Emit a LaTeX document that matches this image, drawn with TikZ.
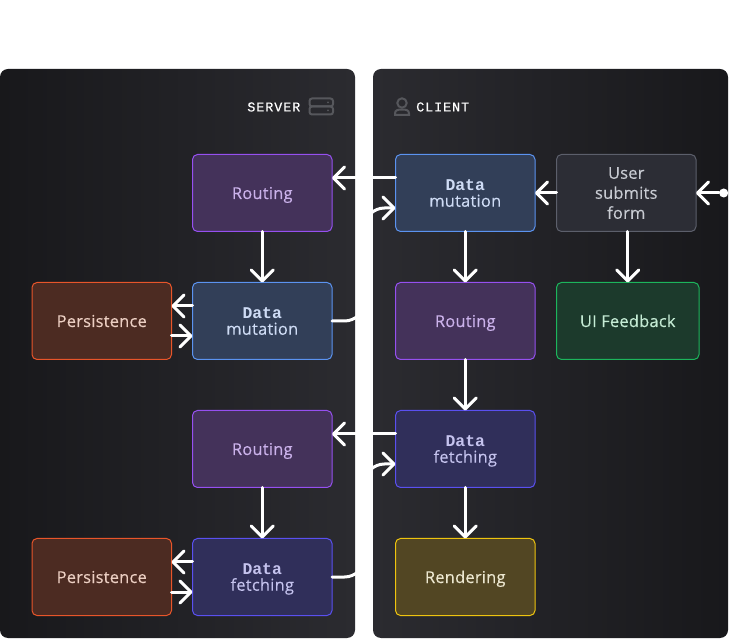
\documentclass[tikz,border=0pt]{standalone}
\usepackage{fontspec}
\setmainfont[FakeBold=0.3, LetterSpace=1.5]{Open Sans}
\newfontfamily\labelfont[LetterSpace=6.5, FakeBold=0.2]{Liberation Mono}
\newfontfamily\datafont{Liberation Mono}
\usetikzlibrary{arrows.meta, positioning}
\definecolor{panel_light}{RGB}{43, 43, 48}
\definecolor{panel_dark}{RGB}{24, 24, 27}
\definecolor{icon_gray}{RGB}{86, 87, 92}
\definecolor{routing_fill}{RGB}{68, 50, 90}
\definecolor{routing_line}{RGB}{150, 80, 240}
\definecolor{routing_text}{RGB}{203, 178, 235}
\definecolor{mutation_fill}{RGB}{50, 63, 88}
\definecolor{mutation_line}{RGB}{91, 147, 240}
\definecolor{mutation_text}{RGB}{207, 220, 245}
\definecolor{persist_fill}{RGB}{76, 43, 34}
\definecolor{persist_line}{RGB}{232, 85, 42}
\definecolor{persist_text}{RGB}{236, 207, 195}
\definecolor{fetching_fill}{RGB}{48, 47, 90}
\definecolor{fetching_line}{RGB}{90, 80, 240}
\definecolor{fetching_text}{RGB}{197, 195, 238}
\definecolor{render_fill}{RGB}{82, 70, 35}
\definecolor{render_line}{RGB}{238, 196, 15}
\definecolor{render_text}{RGB}{236, 231, 208}
\definecolor{user_fill}{RGB}{44, 45, 53}
\definecolor{user_line}{RGB}{92, 95, 107}
\definecolor{user_text}{RGB}{200, 203, 210}
\definecolor{feedback_fill}{RGB}{28, 58, 44}
\definecolor{feedback_line}{RGB}{28, 181, 92}
\definecolor{feedback_text}{RGB}{197, 236, 213}
\tikzset {
  panel/.style = {rectangle, rounded corners=8pt, minimum width=355pt, minimum height=569pt, inner sep=0},
  box/.style = {draw, line width=1pt, rectangle, rounded corners=5pt, minimum height=77pt, minimum width=139.5pt, inner sep=0, outer sep=0, align=center, font=\fontsize{16.4}{20}\selectfont},
  onelinebox/.style = {box, text height=12pt, text depth=0pt},
  databox/.style = {box, text depth=0pt, font=\fontsize{16.4}{16.5}\selectfont},
  routingbox/.style = {onelinebox, draw=routing_line, fill=routing_fill, text=routing_text},
  mutationbox/.style = {databox, draw=mutation_line, fill=mutation_fill, text=mutation_text},
  persistbox/.style = {onelinebox, draw=persist_line, fill=persist_fill, text=persist_text},
  fetchingbox/.style = {databox, draw=fetching_line, fill=fetching_fill, text=fetching_text},
  renderbox/.style = {onelinebox, draw=render_line, fill=render_fill, text=render_text},
  userbox/.style = {box, draw=user_line, fill=user_fill, text=user_text},
  feedbackbox/.style = {onelinebox, minimum width=142.5pt, draw=feedback_line, fill=feedback_fill, text=feedback_text},
  heading/.style = {text=white, inner sep=0, font=\labelfont\fontsize{13.5}{16}\selectfont},
  startdot/.style = {circle, fill=white, minimum size=9pt, inner sep=0},
  line/.style = {-{Straight Barb[length=11pt, width=22pt, line width=3pt, round]}, line width=3pt, color=white, line cap=round},
  icon/.style = {draw=icon_gray, line width=2pt}
}

\begin{document}
\begin{tikzpicture}[x=1pt, y=1pt, node distance=51pt]
    \useasboundingbox (0,0) rectangle (737,638);

    % panels
    \node[panel, left color=panel_dark, right color=panel_light] (serverpanel) at (177.5,284.5) {};
    \node[panel, left color=panel_light, right color=panel_dark] (clientpanel) at (550.5,284.5) {};
    \node[heading, anchor=east] (serverlabel) at (300.5,531) {SERVER};
    \node[heading, anchor=west] (clientlabel) at (416,531) {CLIENT};

    % icons
    \draw[icon, rounded corners=2.5pt] (309.5,523.5) rectangle (333,531.5);
    \draw[icon, rounded corners=2.5pt] (309.5,531.5) rectangle (333,539.5);
    \fill[icon_gray] (328,535.5) circle (1pt) (328,527.5) circle (1pt);
    \draw[icon] (402,535) circle (4.7);
    \draw[icon] (395,523) -- (395,524.5) .. controls (395,528) and (398,528.5) .. (402,528.5) .. controls (406,528.5) and (409,528) .. (409,524.5) -- (409,523) -- cycle;

    % server side
    \node[routingbox] (srouting) at (262.25,445) {Routing};
    \node[mutationbox, below=of srouting] (smutation) {{\datafont\bfseries Data}\\mutation};
    \node[persistbox, left=21pt of smutation] (spersist) {Persistence};
    \node[routingbox, below=of smutation] (srouting2) {Routing};
    \node[fetchingbox, below=of srouting2] (sfetching) {{\datafont\bfseries Data}\\fetching};
    \node[persistbox, left=21pt of sfetching] (spersist2) {Persistence};

    % client side
    \node[mutationbox] (cmutation) at (465.25,445) {{\datafont\bfseries Data}\\mutation};
    \node[userbox, right=21.5pt of cmutation] (user) {User\\submits\\form};
    \node[startdot, right=23pt of user] (start) {};
    \node[routingbox, below=of cmutation] (crouting) {Routing};
    \node[feedbackbox, below right=51pt and 0pt of user.south west] (feedback) {UI Feedback};
    \node[fetchingbox, below=of crouting] (cfetching) {{\datafont\bfseries Data}\\fetching};
    \node[renderbox, below=of cfetching] (render) {Rendering};

    \draw[line] (start) -- (user.east);
    \draw[line] (user) -- (cmutation);
    \draw[line] (feedback |- user.south) -- (feedback.north);
    \draw[line] ([yshift=15pt]cmutation.west) -- ([yshift=15pt]srouting.east);
    \draw[line] (cmutation) -- (crouting);
    \draw[line] (crouting) -- (cfetching);
    \draw[line] (cfetching) -- (render);
    \draw[line] ([yshift=15pt]cfetching.west) -- ([yshift=15pt]srouting2.east);

    \draw[line] (srouting) -- (smutation);
    \draw[line] (srouting2) -- (sfetching);
    \draw[line] ([yshift=15pt]smutation.west) -- ([yshift=15pt]spersist.east);
    \draw[line] ([yshift=-15pt]spersist.east) -- ([yshift=-15pt]smutation.west);
    \draw[line] ([yshift=15pt]sfetching.west) -- ([yshift=15pt]spersist2.east);
    \draw[line] ([yshift=-15pt]spersist2.east) -- ([yshift=-15pt]sfetching.west);

    % white on white across the gap between the panels
    \draw[line, rounded corners=20pt] (smutation.east) -| ([xshift=-31pt, yshift=-15pt]cmutation.west) -- ([yshift=-15pt]cmutation.west);
    \draw[line, rounded corners=20pt] (sfetching.east) -| ([xshift=-31pt, yshift=-15pt]cfetching.west) -- ([yshift=-15pt]cfetching.west);

\end{tikzpicture}
\end{document}
